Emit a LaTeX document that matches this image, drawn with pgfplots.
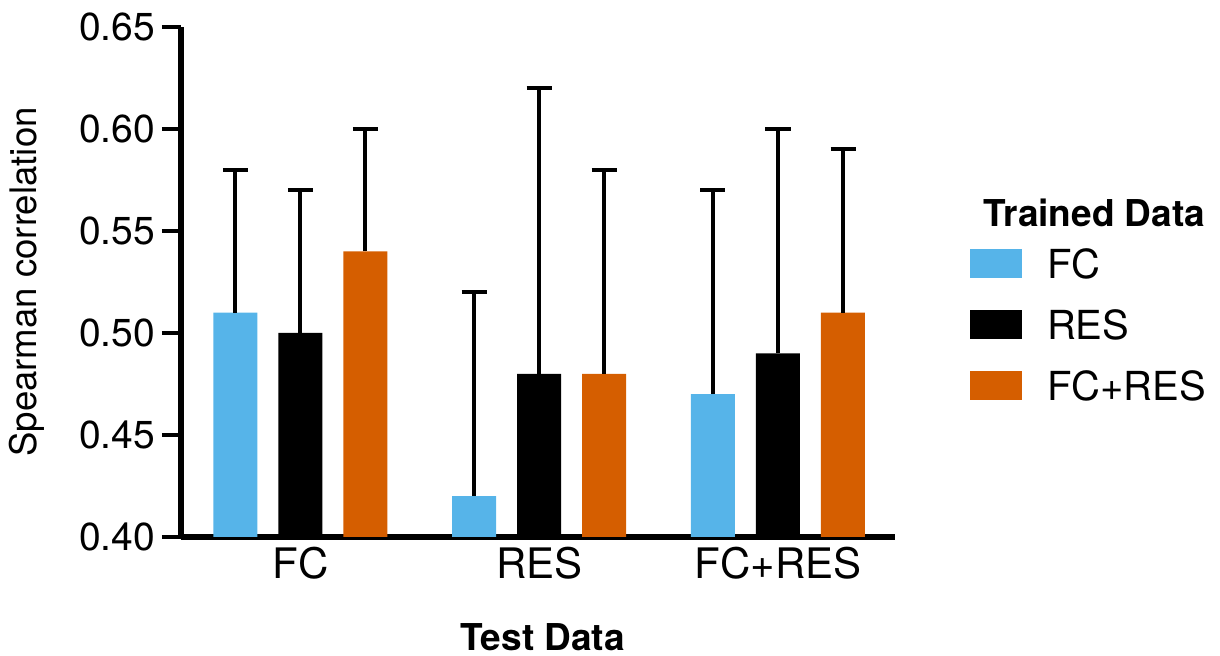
\documentclass[border=0pt]{standalone}
\usepackage{pgfplots}
\pgfplotsset{compat=1.18}
\usepackage{fontspec}
\setmainfont{TeX Gyre Heros}
\definecolor{cfc}{RGB}{86,180,233}
\definecolor{cres}{RGB}{0,0,0}
\definecolor{cboth}{RGB}{213,94,0}
\begin{document}
\begin{tikzpicture}
\begin{axis}[
  name=ax,
  scale only axis,
  width=357pt, height=255pt,
  ybar=10.5pt, bar width=22pt,
  xmin=-0.5, xmax=2.49,
  ymin=0.40, ymax=0.65,
  xtick={0,1,2},
  xticklabels={FC,RES,FC+RES},
  ytick={0.40,0.45,0.50,0.55,0.60,0.65},
  yticklabel style={/pgf/number format/fixed,/pgf/number format/fixed zerofill,/pgf/number format/precision=2,font=\fontsize{19.5}{21}\selectfont},
  /pgf/number format/assume math mode=true,
  axis lines=left,
  axis line style={line width=3pt,-},
  major tick length=9.5pt,
  ytick style={line width=2.25pt,black},
  xtick style={draw=none},
  tick align=outside,
  xticklabel style={font=\fontsize{21}{23}\selectfont,anchor=center,yshift=-3.5pt},
  ylabel={Spearman correlation},
  xlabel={\textbf{Test Data}},
  ylabel style={font=\fontsize{18.3}{20}\selectfont,at={(axis description cs:0,0.5)},anchor=center,yshift=77pt},
  xlabel style={font=\fontsize{18.5}{20}\selectfont,at={(axis description cs:0.5,0)},anchor=center,yshift=-50pt,xshift=2.5pt},
  clip=false,
  legend style={at={(axis description cs:1,1)},anchor=north west,xshift=37.5pt,yshift=-110.75pt,
    draw=none,fill=none,inner sep=0pt,outer sep=0pt,
    nodes={inner sep=0pt,text depth=0pt},
    font=\fontsize{20}{22}\selectfont,row sep=15.5pt,column sep=0pt},
  legend cell align=left,
  legend image code/.code={\fill[#1,draw=none] (0pt,-7.25pt) rectangle (26pt,7.25pt);},
  error bars/y dir=plus,
  error bars/y explicit,
  error bars/error bar style={line width=2pt,black},
  error bars/error mark options={rotate=90,mark size=6.25pt,line width=2pt,black},
]
\addplot[fill=cfc,draw=none] coordinates {(0,0.51) +- (0,0.07) (1,0.42) +- (0,0.10) (2,0.47) +- (0,0.10)};
\addplot[fill=cres,draw=none] coordinates {(0,0.50) +- (0,0.07) (1,0.48) +- (0,0.14) (2,0.49) +- (0,0.11)};
\addplot[fill=cboth,draw=none] coordinates {(0,0.54) +- (0,0.06) (1,0.48) +- (0,0.10) (2,0.51) +- (0,0.08)};
\legend{\hspace{12.5pt}FC,\hspace{12.5pt}RES,\hspace{12.5pt}FC+RES}
\node[anchor=west,font=\fontsize{18.5}{20}\selectfont\bfseries,inner sep=0pt] at ([xshift=44pt,yshift=-93pt]axis description cs:1,1) {Trained Data};
\end{axis}
\pgfresetboundingbox
\path ([xshift=-90.5pt,yshift=-59.5pt]ax.south west) rectangle ([xshift=162.5pt,yshift=13.5pt]ax.north east);
\end{tikzpicture}
\end{document}
